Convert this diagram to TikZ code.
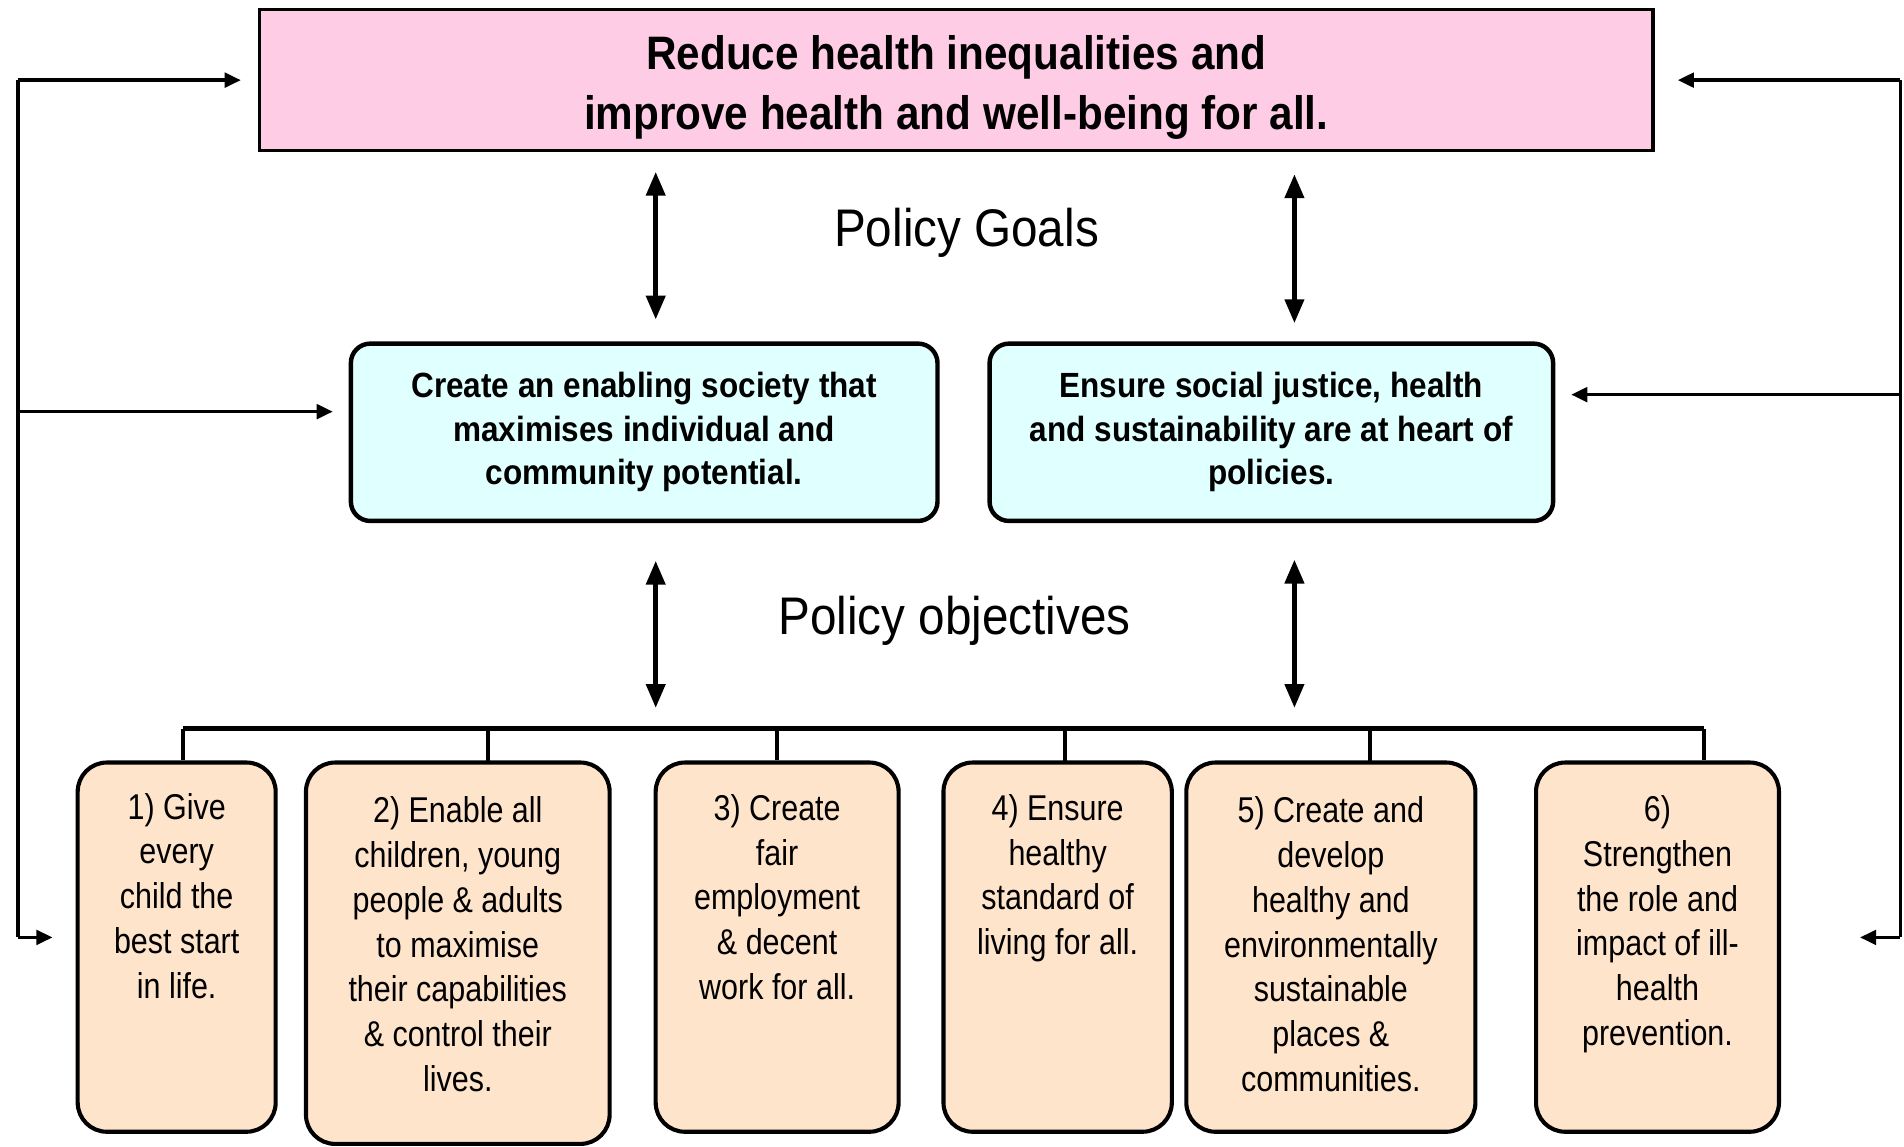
\documentclass[tikz,border=0pt]{standalone}
\usepackage{fontspec}
\setmainfont{Liberation Sans}
\newfontfamily\titlefont{Liberation Sans}[FakeStretch=0.9]
\newfontfamily\objfont{Liberation Sans}[FakeStretch=0.85]
\usetikzlibrary{arrows.meta,calc}
\definecolor{pinkfill}{RGB}{255,204,229}
\definecolor{cyanfill}{RGB}{224,255,255}
\definecolor{peachfill}{RGB}{255,228,204}
\begin{document}
\begin{tikzpicture}[x=0.025cm,y=-0.025cm,
  topbox/.style={draw=black,line width=2.1pt,fill=pinkfill,minimum width=28.675cm,minimum height=2.9cm,inner sep=0pt},
  toptext/.style={inner sep=0pt,align=center,font=\titlefont\bfseries\fontsize{27.5}{35.5}\selectfont},
  goalbox/.style={draw=black,line width=2.6pt,fill=cyanfill,rounded corners=0.4cm,minimum height=3.65cm,inner sep=0pt,align=center,
    font=\titlefont\bfseries\fontsize{20.5}{25.5}\selectfont},
  objbox/.style={draw=black,line width=2.4pt,fill=peachfill,rounded corners=0.6cm,minimum height=7.6cm,inner sep=0pt},
  objtext/.style={anchor=north,inner sep=0pt,align=center,font=\objfont\fontsize{21}{26.2}\selectfont},
  heading/.style={inner sep=0pt,font=\titlefont\fontsize{31}{36}\selectfont},
  darr/.style={line width=2.8pt,{Triangle[length=14pt,width=11pt]}-{Triangle[length=14pt,width=11pt]}},
  sline/.style={line width=2.1pt},
  sarr/.style={line width=2.1pt,-{Triangle[length=9.5pt,width=8.5pt]}},
  bar/.style={line width=2.8pt},
  drop/.style={line width=2.2pt}
]
\path[use as bounding box] (0,0) rectangle (1568,944);

% top goal
\node[topbox] (top) at (787.5,66) {};
\node[toptext] (toptxt) at (787.5,72) {Reduce health inequalities and\\improve health and well-being for all.};

\node[heading] (pg) at (796,192) {Policy Goals};
\node[heading] (po) at (786,511) {Policy objectives};

% goal boxes
\node[goalbox,minimum width=12.075cm] (blueL) at (530.5,356) {Create an enabling society that\\maximises individual and\\community potential.};
\node[goalbox,minimum width=11.6cm] (blueR) at (1047,356) {Ensure social justice, health\\and sustainability are at heart of\\policies.};

% objective boxes
\node[objbox,minimum width=4.075cm] (o1) at (145.5,780) {};
\node[objbox,minimum width=6.25cm,minimum height=7.85cm] (o2) at (377,785) {};
\node[objbox,minimum width=5cm] (o3) at (640,780) {};
\node[objbox,minimum width=4.7cm] (o4) at (871,780) {};
\node[objbox,minimum width=5.95cm] (o5) at (1096,780) {};
\node[objbox,minimum width=5cm] (o6) at (1365,780) {};

\node[objtext] (t1) at (145.5,653) {1) Give\\every\\child the\\best start\\in life.};
\node[objtext] (t2) at (377,656) {2) Enable all\\children, young\\people \& adults\\to maximise\\their capabilities\\\& control their\\lives.};
\node[objtext] (t3) at (640,654) {3) Create\\fair\\employment\\\& decent\\work for all.};
\node[objtext] (t4) at (871,654) {4) Ensure\\healthy\\standard of\\living for all.};
\node[objtext] (t5) at (1096,656) {5) Create and\\develop\\healthy and\\environmentally\\sustainable\\places \&\\communities.};
\node[objtext] (t6) at (1365,655) {6)\\Strengthen\\the role and\\impact of ill-\\health\\prevention.};

% coordinates
\coordinate (ax1) at (540,0);
\coordinate (ax2) at (1066,0);
\coordinate (barL) at (151,600);
\coordinate (barR) at (1403,600);
\coordinate (Lt) at (15,66);
\coordinate (Lm) at (15,339);
\coordinate (Lb) at (15,772);
\coordinate (Rt) at (1565,66);
\coordinate (Rm) at (1565,325);
\coordinate (Rb) at (1565,772);

% vertical double arrows
\draw[darr,shorten <=0.4cm,shorten >=0.45cm] (ax1 |- top.south) -- (ax1 |- blueL.north);
\draw[darr,shorten <=0.45cm,shorten >=0.375cm] (ax2 |- top.south) -- (ax2 |- blueR.north);
\draw[darr,shorten <=0.775cm,shorten >=0.425cm] (ax1 |- blueL.south) -- (ax1 |- barL);
\draw[darr,shorten <=0.75cm,shorten >=0.425cm] (ax2 |- blueR.south) -- (ax2 |- barL);

% bracket
\draw[bar] (barL) -- (barR);
\draw[drop] (barL) -- (barL |- o1.north);
\draw[drop] (402,600) -- (402,628);
\draw[drop] (640,600) -- (o3.north);
\draw[drop] (877,600) -- (877,628);
\draw[drop] (1128,600) -- (1128,628);
\draw[drop] (barR) -- (barR |- o6.north);

% side feedback connectors
\draw[sline] (Lt) -- (Lb);
\draw[sarr,shorten >=0.35cm] (Lt) -- (top.west);
\draw[sarr,shorten >=0.325cm] (Lm) -- (blueL.west |- Lm);
\draw[sarr,shorten >=0.475cm] (Lb) -- (o1.west |- Lb);
\draw[sline] (Rt) -- (Rb);
\draw[sarr,shorten >=0.475cm] (Rt) -- (top.east);
\draw[sarr,shorten >=0.325cm] (Rm) -- (blueR.east |- Rm);
\draw[sarr,shorten >=1.625cm] (Rb) -- (o6.east |- Rb);
\end{tikzpicture}
\end{document}
